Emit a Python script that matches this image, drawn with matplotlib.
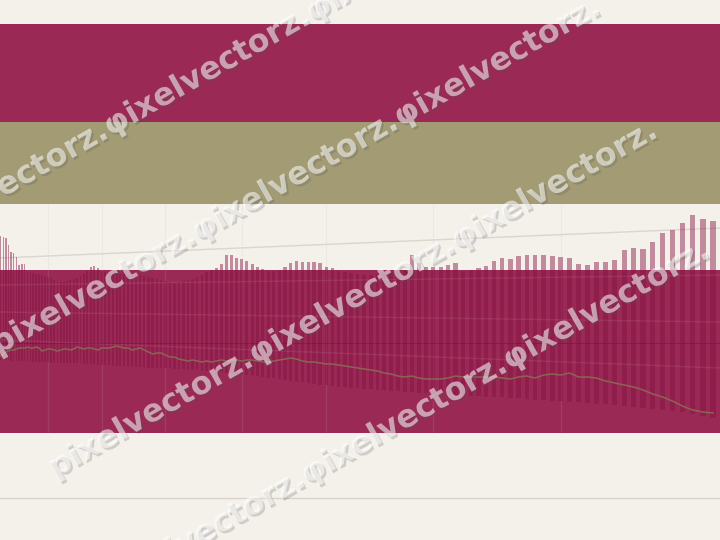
import numpy as np
import matplotlib
matplotlib.use("Agg")
import matplotlib.pyplot as plt
import matplotlib.patheffects as pe

# ---------------- data (y axis runs downward, 0 at top) ----------------
bar_top = [236, 237, 238, 245, 252, 253, 257, 265, 264, 264,
           272, 273, 273, 274, 274, 275, 276, 277, 278, 280,
           281, 282, 282, 281, 280, 279, 278, 276, 274, 271,
           267, 266, 268,
           271, 272, 273, 273, 274, 274, 274, 275, 274, 274, 275, 276, 277,
           278, 279, 280, 281, 282, 283, 282, 281, 280, 279, 277, 275, 272,
           270,
           268, 264, 255, 255, 258, 259, 261, 264, 267, 269,
           271, 271, 270,
           267, 263, 261, 262, 262, 262, 263, 267, 268,
           271, 272, 273, 274, 275, 275, 274, 273, 272, 271, 270,
           255,
           263, 267, 267, 267, 265, 263,
           271, 270,
           268, 266, 261, 258, 259, 256, 255, 255, 255, 256, 257, 258, 264,
           265, 262, 262, 260, 250, 248, 249, 242, 233, 230, 223, 215, 219, 221]

bar_bottom = [360, 360, 360, 360, 361, 361, 361, 361, 361, 361,
              361, 361, 362, 362, 362, 362, 362, 362, 363, 363,
              363, 363, 363, 363, 363, 363, 363, 363, 364, 364,
              364, 364, 365, 365, 365, 365, 366, 366, 366, 366,
              366, 367, 367, 367, 367, 368, 368, 368, 368, 368,
              368, 369, 369, 369, 370, 370, 370, 371, 371, 371,
              372, 372, 373, 373, 374, 374, 375, 375, 376, 377,
              378, 378, 379, 380, 381, 382, 382, 383, 384, 385,
              385, 386, 387, 387, 388, 388, 389, 389, 390, 390,
              391, 391, 392, 392, 393, 393, 394, 394, 394, 395,
              395, 396, 396, 397, 397, 397, 398, 398, 399, 400,
              400, 401, 401, 402, 402, 403, 404, 404, 405, 406,
              407, 408, 409, 410, 411, 412, 414, 416, 418]

line_vals = [356, 354, 352, 351, 350, 350, 349, 348, 348, 348,
             347, 348, 348, 347, 348, 351, 350, 349, 349, 350,
             351, 350, 349, 349, 350, 349, 347, 348, 349, 348,
             348, 349, 350, 348, 348, 348, 347, 346, 347, 348,
             348, 350, 349, 348, 350, 352, 354, 353, 353, 355,
             357, 357, 359, 360, 361, 360, 361, 362, 361, 362,
             361, 360, 361, 360, 360, 361, 360, 360, 361, 362,
             362, 361, 360, 359, 358, 359, 361, 362, 362, 363,
             364, 364, 365, 366, 367, 368, 369, 370, 371, 373,
             374, 376, 377, 376, 378, 379, 379, 379, 378, 376,
             377, 377, 377, 377, 377, 378, 379, 377, 376, 378,
             375, 374, 375, 373, 377, 377, 378, 381, 383, 385,
             387, 390, 394, 397, 401, 406, 410, 412, 413]

idx = np.arange(len(bar_top))

band_from = [24, 122, 270]
band_to = [122, 204, 433]
grid_x = [17, 33, 49, 65, 80, 96, 112]
trend_cream = [258, 228]
trend_band = [[285, 275], [312, 322], [340, 368]]
dark_level = 342.5
base_level = 498

watermark = "pixelvectorz.φixelvectorz.φixelvectorz."

# ---------------- style ----------------
CREAM = "#f4f1ea"
CRIMSON = "#9a2a55"
OLIVE = "#a29b74"
BAR = "#851144"
LINE = "#8a6552"

fig = plt.figure(figsize=(7.2, 5.4), dpi=100, facecolor=CREAM)
ax = fig.add_axes([0, 0, 1, 1])
ax.set_facecolor(CREAM)
K = 0.011
ax.set_xscale("function",
              functions=(lambda x: np.exp(K * np.asarray(x, float)),
                         lambda y: np.log(np.clip(np.asarray(y, float), 1e-12, None)) / K))
ax.set_xlim(-0.276, 128.67)
ax.set_ylim(540, 0)
ax.axis("off")

xl = ax.get_xlim()

# faint trend line in cream (under bands)
ax.plot(xl, trend_cream, color="#dcd5cd", lw=1.0, zorder=0.5)
ax.axhline(base_level, color="#dbd3cb", lw=1.0, zorder=0.5)

bands_col = [CRIMSON, OLIVE, CRIMSON]
for lo, hi, c in zip(band_from, band_to, bands_col):
    ax.axhspan(lo, hi, color=c, lw=0, zorder=1)

# vertical grid (only in chart area)
ax.vlines(grid_x, band_to[1], band_to[2], color="#c8beb8", alpha=0.14, lw=0.9, zorder=1.5)

# bars (floating)
heights = np.array(bar_bottom) - np.array(bar_top)
ax.bar(idx, heights, bottom=bar_top, width=0.55, color=BAR, alpha=0.46,
       lw=0, zorder=2)

# faint lines inside the band
for ty in trend_band:
    ax.plot(xl, ty, color="white", alpha=0.08, lw=1.0, zorder=2.5)
ax.axhline(dark_level, color="#6a1838", alpha=0.5, lw=0.8, zorder=2.5)

# main line
ax.plot(idx, line_vals, color=LINE, lw=1.1, zorder=3)

# watermark rows (baseline start points in pixels)
rows = [(-90, 250), (-2, 355), (55, 478), (107, 598)]
for (px, py) in rows:
    fig.text(px / 720, 1 - py / 540, watermark, rotation=29.5,
             rotation_mode="anchor", ha="left", va="baseline",
             fontsize=22.8, fontweight="bold", family="DejaVu Sans",
             color="white", alpha=0.55, zorder=10,
             path_effects=[pe.SimplePatchShadow(offset=(1.5, -1.5),
                                                shadow_rgbFace="#505050",
                                                alpha=0.22),
                           pe.Normal()])

fig.savefig("out.png", dpi=100, facecolor=CREAM)
